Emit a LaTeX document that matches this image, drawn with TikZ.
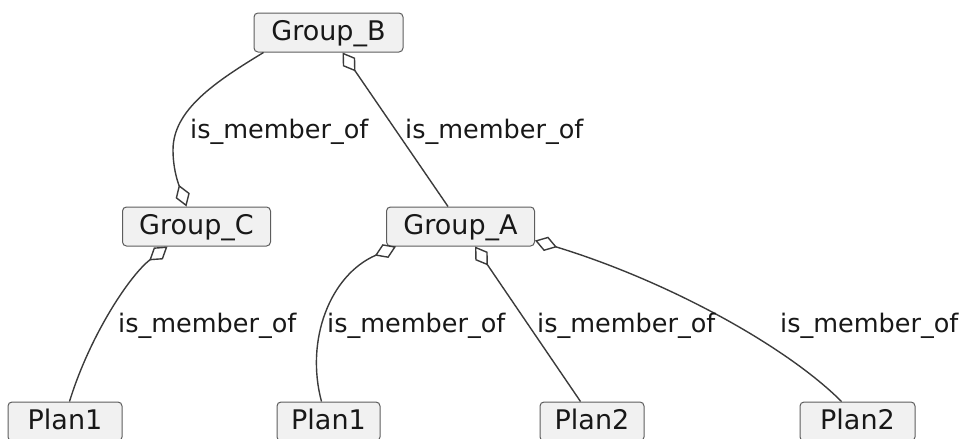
\documentclass[tikz,border=0pt]{standalone}
\usepackage{fontspec}
\setmainfont{DejaVu Sans}
\usetikzlibrary{arrows.meta,calc}
\definecolor{boxfill}{HTML}{F1F1F1}
\definecolor{lineclr}{HTML}{181818}
\tikzset{
  umlbox/.style={draw=lineclr!70!white, line width=1pt, fill=boxfill, rounded corners=4pt,
    minimum height=39pt, inner sep=0pt, text height=20pt, text depth=5pt,
    font=\fontsize{27}{30}\selectfont, text=lineclr},
  rel/.style={draw=lineclr!85!white, line width=1.4pt,
    -{Diamond[open, length=23pt, width=15pt, line width=1.4pt]}},
  rellabel/.style={anchor=base west, inner sep=0pt, font=\fontsize{25.5}{28}\selectfont, text=lineclr}
}
\begin{document}
\begin{tikzpicture}[x=1pt,y=-1pt]
\useasboundingbox (0,0) rectangle (962,439);
% nodes
\node[umlbox, minimum width=149pt] (B) at (328.5,32.5) {Group\_B};
\node[umlbox, minimum width=148pt] (C) at (196.5,226.5) {Group\_C};
\node[umlbox, minimum width=148pt] (A) at (460.5,226.5) {Group\_A};
\node[umlbox, minimum width=114pt] (P1L) at (65,421.5) {Plan1\hspace{11pt}};
\node[umlbox, minimum width=103pt] (P1M) at (328.5,421.5) {Plan1};
\node[umlbox, minimum width=104pt] (P2M) at (592,421.5) {Plan2};
\node[umlbox, minimum width=115pt] (P2R) at (857.5,421.5) {Plan2\hspace{12pt}};
% connectors
\draw[rel] ($(B.south west)+(10,0)$) .. controls (215,82) and (173,110) .. (173,150)
  .. controls (173,172) and (180,188) .. ($(C.north west)+(64.5,0)$);
\draw[rel] ($(A.north west)+(62,0)$) -- ($(B.south west)+(89,0)$);
\draw[rel] ($(P1L.north west)+(62,0)$) .. controls (90,335) and (130,275) .. ($(C.south west)+(45.5,0)$);
\draw[rel] ($(P1M.north west)+(45,0)$) .. controls (305,340) and (330,275) .. ($(A.south west)+(10,0)$);
\draw[rel] ($(P2M.north west)+(41,0)$) -- ($(A.south west)+(89,0)$);
\draw[rel] ($(P2R.north west)+(42,0)$) .. controls (785,345) and (665,280) .. ($(A.south east)+(0,-6)$);
% labels
\node[rellabel] (L1) at (190,138) {is\_member\_of};
\node[rellabel] (L2) at (405,138) {is\_member\_of};
\node[rellabel] (L3) at (118,332) {is\_member\_of};
\node[rellabel] (L4) at (327,332) {is\_member\_of};
\node[rellabel] (L5) at (537,332) {is\_member\_of};
\node[rellabel] (L6) at (780,332) {is\_member\_of};
\end{tikzpicture}
\end{document}
